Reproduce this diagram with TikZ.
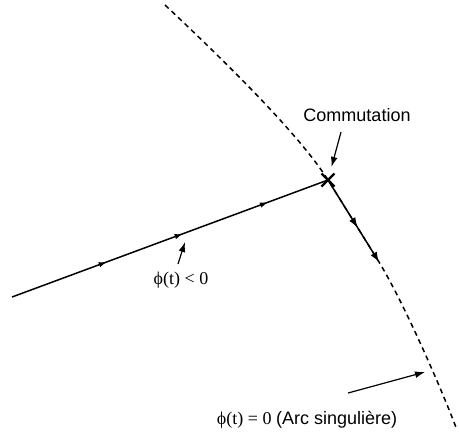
\documentclass[tikz,border=0pt]{standalone}
\usepackage{fontspec}
\setmainfont{Liberation Serif}
\setsansfont{Liberation Sans}
\usepackage{xcolor}
\usetikzlibrary{arrows.meta}
\usetikzlibrary{decorations.markings, math, calc}

\begin{document}
\begin{tikzpicture}[x=0.5pt, y=-0.5pt,
  traj/.style={line width=0.75pt},
  pointer/.style={-{Latex[length=5pt,width=3.4pt]}, line width=0.6pt},
  lbl/.style={inner sep=0pt, font=\fontsize{9}{10}\selectfont}]
\tikzmath{
\d=6.5;
}
\useasboundingbox (0,0) rectangle (459,446);

\coordinate (start) at (12,297);
\coordinate (comm) at (328,180);
\coordinate (fin) at (379,262);

% arc singuliere
\draw[line width=0.75pt, dash pattern=on 2.5pt off 2pt] (165,5) .. controls (215,52) and (297,131) .. (comm) -- (fin) .. controls (404,303) and (442,390) .. (457,430);

\draw[traj, decoration={markings,
  mark=at position 0.30 with {\arrow{Latex[length=4pt,width=2.8pt]}},
  mark=at position 0.54 with {\arrow{Latex[length=4pt,width=2.8pt]}},
  mark=at position 0.81 with {\arrow{Latex[length=4pt,width=2.8pt]}}},
  postaction={decorate}] (start) -- (comm);
\draw[traj, -{Latex[length=5pt,width=3.6pt]}, decoration={markings,
  mark=at position 0.58 with {\arrow{Latex[length=5pt,width=3.6pt]}}},
  postaction={decorate}] (comm) -- (fin);

% croix
\draw[line width=1.2pt] ($(comm)+(-\d,-\d)$) -- ($(comm)+(\d,\d)$);
\draw[line width=1.2pt] ($(comm)+(\d,-\d)$) -- ($(comm)+(-\d,\d)$);

\node[lbl, font=\sffamily\fontsize{9}{10}\selectfont] (commlbl) at (357,115) {Commutation};
\coordinate (commtail) at (341,132);
\draw[pointer, shorten >=6.8pt] (commtail) -- (comm);

\node[lbl] (phineg) at (181,280) {ϕ(t) < 0};
\coordinate (negtail) at (178,264);
\coordinate (negtip) at (185,242);
\draw[pointer] (negtail) -- (negtip);

\node[lbl] (phizero) at (307,420) {ϕ(t) = 0 \textsf{(Arc singulière)}};
\coordinate (zerotail) at (348,393);
\coordinate (zerotip) at (425,372);
\draw[pointer] (zerotail) -- (zerotip);

\end{tikzpicture}
\end{document}
